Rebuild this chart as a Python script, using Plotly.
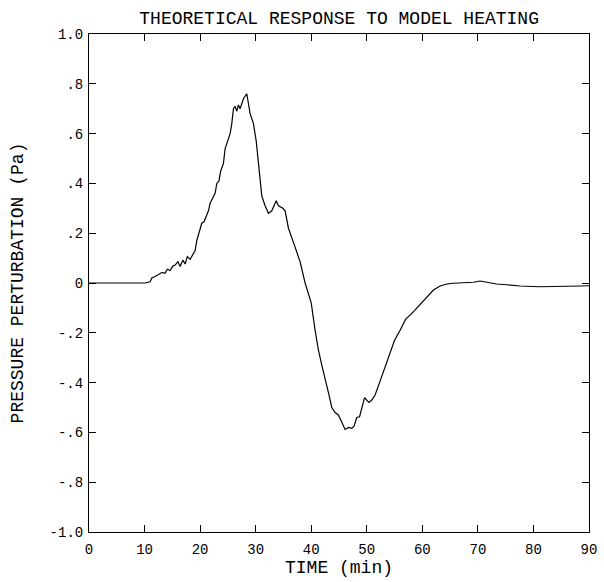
import plotly.graph_objects as go

time_min = [0, 5, 10.1, 11, 11.3, 11.9, 12.5, 13.1, 13.7, 14.1, 14.6, 15.1, 15.5, 16.0, 16.4, 16.9,
            17.3, 17.7, 18.2, 18.7, 19.1, 19.4, 19.8, 20.3, 20.7, 21.1, 21.5, 21.8, 22.3, 22.7, 23.0,
            23.4, 23.7, 24.2, 24.5, 24.9, 25.4, 25.7, 26.0, 26.3, 26.6, 26.9, 27.2, 27.5, 27.8, 28.1,
            28.4, 29.0, 29.6, 30.1, 30.5, 31.1, 31.7, 32.3, 32.9, 33.3, 33.7, 34.1, 34.9, 35.3, 35.9,
            37.0, 38.0, 38.9, 40.0, 40.7, 41.3, 41.9, 42.5, 43.1, 43.7, 44.3, 44.9, 45.5, 46.1, 46.7,
            47.3, 47.7, 48.2, 48.7, 49.1, 49.6, 50.0, 50.4, 50.9, 51.5, 52.3, 53.3, 54.3, 55.0, 56.0,
            57.0, 58.0, 59.0, 59.6, 60.8, 62.0, 63.2, 64.4, 65.6, 67.4, 69.2, 70.4, 71.6, 73.4, 75.2,
            77.6, 81.2, 84.8, 88.4, 90.0]
pressure_pa = [0, 0, 0, 0.005, 0.02, 0.026, 0.033, 0.042, 0.04, 0.055, 0.05, 0.068, 0.072, 0.086, 0.066, 0.092,
               0.076, 0.106, 0.095, 0.112, 0.13, 0.17, 0.2, 0.24, 0.246, 0.27, 0.29, 0.32, 0.34, 0.36, 0.40,
               0.41, 0.45, 0.48, 0.54, 0.57, 0.60, 0.64, 0.70, 0.71, 0.69, 0.715, 0.70, 0.72, 0.74, 0.75,
               0.76, 0.68, 0.64, 0.57, 0.48, 0.35, 0.31, 0.28, 0.29, 0.31, 0.33, 0.31, 0.30, 0.29, 0.22,
               0.15, 0.085, 0.0, -0.08, -0.19, -0.27, -0.33, -0.38, -0.44, -0.50, -0.52, -0.53, -0.557, -0.588, -0.58,
               -0.584, -0.575, -0.54, -0.537, -0.50, -0.46, -0.47, -0.48, -0.47, -0.45, -0.40, -0.336, -0.27, -0.23, -0.19,
               -0.145, -0.125, -0.10, -0.088, -0.055, -0.028, -0.012, -0.004, -0.001, 0.0, 0.003, 0.008, 0.003, -0.004, -0.007,
               -0.012, -0.015, -0.015, -0.012, -0.011]

x_ticks = [0, 10, 20, 30, 40, 50, 60, 70, 80, 90]
y_ticks = [1.0, 0.8, 0.6, 0.4, 0.2, 0.0, -0.2, -0.4, -0.6, -0.8, -1.0]
y_tick_text = ["1.0", ".8", ".6", ".4", ".2", "0", "-.2", "-.4", "-.6", "-.8", "-1.0"]

FONT = "Liberation Mono"

fig = go.Figure()
fig.add_trace(go.Scatter(x=time_min, y=pressure_pa, mode="lines",
                         line=dict(color="black", width=1.2), showlegend=False))

axis_common = dict(showline=True, linecolor="black", linewidth=1, mirror="ticks",
                   ticks="inside", ticklen=7, tickcolor="black", tickwidth=1,
                   showgrid=False, zeroline=False, automargin=False,
                   tickfont=dict(family=FONT, size=14, color="black"))

fig.update_layout(
    width=604, height=582,
    margin=dict(l=89, r=15, t=34, b=50),
    paper_bgcolor="white", plot_bgcolor="white",
    title=dict(text="THEORETICAL RESPONSE TO MODEL HEATING", x=0.5615, xanchor="center",
               y=0.97, yanchor="middle", font=dict(family=FONT, size=18, color="black")),
    xaxis=dict(range=[0, 90], tickvals=x_ticks, ticktext=[str(v) for v in x_ticks],
               ticklabelstandoff=4,
               title=dict(text="TIME (min)", font=dict(family=FONT, size=18, color="black"), standoff=3),
               **axis_common),
    yaxis=dict(range=[-1.0, 1.0], tickvals=y_ticks, ticktext=y_tick_text,
               ticklabelstandoff=2,
               title=dict(text="PRESSURE PERTURBATION (Pa)", font=dict(family=FONT, size=18, color="black"), standoff=21),
               **axis_common),
)

fig.write_html("out.html")
